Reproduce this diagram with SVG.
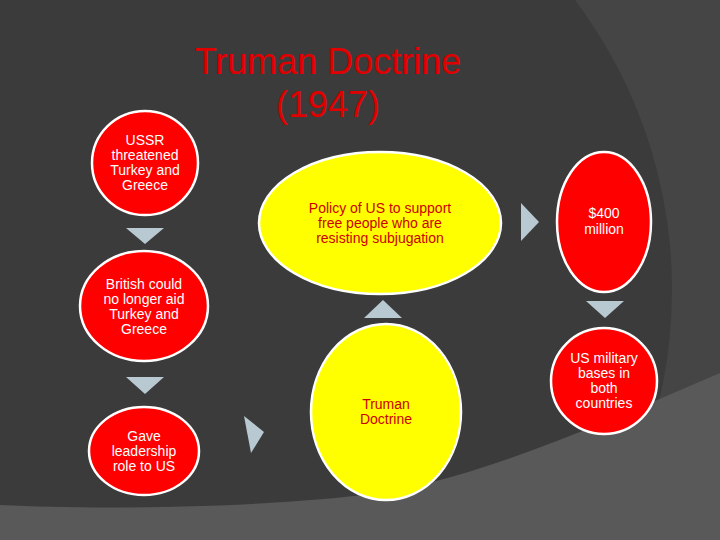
<svg xmlns="http://www.w3.org/2000/svg" width="720" height="540" viewBox="0 0 720 540">
<style>
.red{fill:#ff0000;stroke:#ffffff;stroke-width:2.5}
.yel{fill:#ffff00;stroke:#ffffff;stroke-width:2.5}
.arr{fill:#b9c9d1}
.wt{font-family:"Liberation Sans",Arial,sans-serif;font-size:14px;fill:#ffffff;text-anchor:middle}
.rt{font-family:"Liberation Sans",Arial,sans-serif;font-size:14px;fill:#cc0000;text-anchor:middle}
.title{font-family:"Liberation Sans",Arial,sans-serif;font-size:36px;fill:#e00000;text-anchor:middle}
</style>
<g id="background">
<rect x="0" y="0" width="720" height="540" fill="#454545"/>
<circle cx="190" cy="290" r="482" fill="#3b3b3b"/>
<path d="M0,505 C120,511 300,506 400,490 C500,468 600,425 720,373 L720,540 L0,540 Z" fill="#595959"/>
</g>
<g id="title">
<text class="title" x="328" y="74">Truman Doctrine</text>
<text class="title" x="328" y="117">(1947)</text>
</g>
<g id="connectors">
<polygon class="arr" points="126,228 164,228 145,244"/>
<polygon class="arr" points="126,377 164,377 145,394"/>
<polygon class="arr" points="244,416 264,432 251,453"/>
<polygon class="arr" points="364,318 402,318 383,300"/>
<polygon class="arr" points="521,203 539,222 521,241"/>
<polygon class="arr" points="586,301 624,301 605,318"/>
</g>
<g id="node-ussr">
<ellipse class="red" cx="145" cy="163" rx="53" ry="52"/>
<text class="wt" x="145" y="145">USSR</text>
<text class="wt" x="145" y="160">threatened</text>
<text class="wt" x="145" y="175">Turkey and</text>
<text class="wt" x="145" y="190">Greece</text>
</g>
<g id="node-british">
<ellipse class="red" cx="144" cy="306" rx="64" ry="55"/>
<text class="wt" x="144" y="289">British could</text>
<text class="wt" x="144" y="304">no longer aid</text>
<text class="wt" x="144" y="319">Turkey and</text>
<text class="wt" x="144" y="334">Greece</text>
</g>
<g id="node-gave">
<ellipse class="red" cx="144" cy="451" rx="55" ry="44"/>
<text class="wt" x="144" y="441">Gave</text>
<text class="wt" x="144" y="456">leadership</text>
<text class="wt" x="144" y="471">role to US</text>
</g>
<g id="node-policy">
<ellipse class="yel" cx="380" cy="223" rx="121" ry="71"/>
<text class="rt" x="380" y="213">Policy of US to support</text>
<text class="rt" x="380" y="228">free people who are</text>
<text class="rt" x="380" y="243">resisting subjugation</text>
</g>
<g id="node-truman">
<ellipse class="yel" cx="386" cy="412" rx="75" ry="88"/>
<text class="rt" x="386" y="409">Truman</text>
<text class="rt" x="386" y="424">Doctrine</text>
</g>
<g id="node-400">
<ellipse class="red" cx="604" cy="222" rx="47" ry="70"/>
<text class="wt" x="604" y="218">$400</text>
<text class="wt" x="604" y="234">million</text>
</g>
<g id="node-bases">
<ellipse class="red" cx="604" cy="381" rx="53" ry="53"/>
<text class="wt" x="604" y="363">US military</text>
<text class="wt" x="604" y="378">bases in</text>
<text class="wt" x="604" y="393">both</text>
<text class="wt" x="604" y="408">countries</text>
</g>
</svg>
